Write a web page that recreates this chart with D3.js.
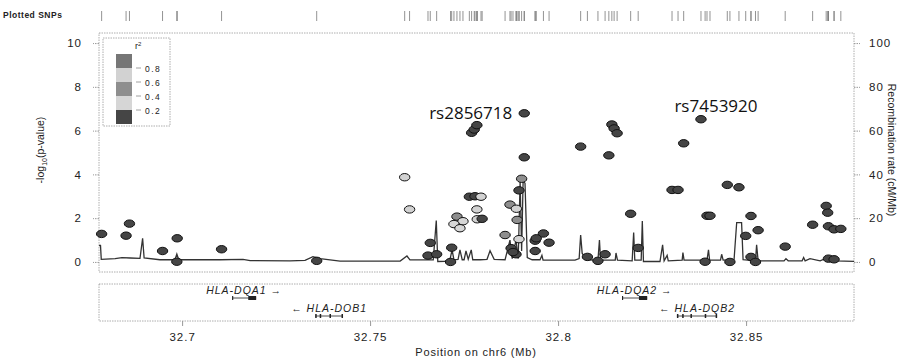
<!DOCTYPE html>
<html>
<head>
<meta charset="utf-8">
<script src="https://cdn.jsdelivr.net/npm/d3@7"></script>
<style>
body { margin: 0; background: #fff; }
text { font-family: "Liberation Sans", Arial, sans-serif; fill: #222; }
.lab { font-family: "Open Sans", sans-serif; fill: #111; }
</style>
</head>
<body>
<div id="chart"></div>
<script>
// SNP data: position (Mb), -log10 p, r2 with lead SNP
var snpPos = [32.6786, 32.6860, 32.6851, 32.6948, 32.6987, 32.6986, 32.7105, 32.7358,
    32.7592, 32.7605, 32.7660, 32.7654, 32.7677, 32.7714, 32.7717, 32.7731, 32.7747, 32.7723, 32.7739,
    32.7770, 32.7777, 32.7784, 32.7764, 32.7779, 32.7795, 32.7784, 32.7785, 32.7798,
    32.7859, 32.7872, 32.7889, 32.7891, 32.7896, 32.7875, 32.7888, 32.7880, 32.7896, 32.7903, 32.7910, 32.7910,
    32.7939, 32.7961, 32.7942, 32.7976, 32.7939, 32.8060, 32.8078, 32.8106, 32.8125, 32.8135,
    32.8143, 32.8149, 32.8157, 32.8193, 32.8213, 32.8303, 32.8319, 32.8334, 32.8380, 32.8391,
    32.8396, 32.8404, 32.8450, 32.8457, 32.8481, 32.8499, 32.8513, 32.8513, 32.8525, 32.8532,
    32.8604, 32.8677, 32.8713, 32.8717, 32.8719, 32.8734, 32.8752, 32.8719, 32.8734];
var snpLogP = [1.28, 1.75, 1.20, 0.50, 1.08, 0.01, 0.58, 0.05,
    3.87, 2.40, 0.87, 0.29, 0.35, 0.00, 0.65, 2.07, 1.86, 1.73, 1.54,
    5.90, 6.05, 6.25, 2.98, 3.00, 2.98, 2.40, 1.95, 1.97,
    1.23, 2.62, 2.43, 1.92, 1.04, 0.63, 0.35, 0.45, 3.27, 3.80, 4.78, 6.79,
    0.97, 1.30, 1.08, 0.88, 0.50, 5.27, 0.23, 0.05, 0.35, 4.87,
    6.28, 6.10, 5.88, 2.20, 0.64, 3.29, 3.29, 5.42, 6.52, 0.01,
    2.11, 2.11, 3.52, 0.00, 3.41, 1.19, 0.23, 2.10, 0.00, 1.45,
    0.70, 1.70, 2.56, 2.25, 1.63, 1.49, 1.51, 0.15, 0.12];
var snpR2 = [0.1, 0.1, 0.1, 0.1, 0.1, 0.1, 0.1, 0.1,
    0.7, 0.7, 0.1, 0.1, 0.1, 0.1, 0.1, 0.5, 0.3, 0.3, 0.3,
    0.1, 0.1, 0.1, 0.1, 0.1, 0.7, 0.7, 0.7, 0.1,
    0.5, 0.5, 0.7, 0.5, 0.7, 0.1, 0.1, 0.1, 0.1, 0.5, 0.1, 0.1,
    0.1, 0.1, 0.1, 0.1, 0.1, 0.1, 0.1, 0.1, 0.1, 0.1,
    0.1, 0.1, 0.1, 0.1, 0.1, 0.1, 0.1, 0.1, 0.1, 0.1,
    0.1, 0.1, 0.1, 0.1, 0.1, 0.1, 0.1, 0.1, 0.1, 0.1,
    0.1, 0.1, 0.1, 0.1, 0.1, 0.1, 0.1, 0.1, 0.1];

// recombination rate (cM/Mb)
var recPos = [32.6779, 32.6783, 32.6785, 32.6822, 32.6840, 32.6862, 32.6888, 32.6895, 32.6899, 32.6941,
    32.6981, 32.6986, 32.6991, 32.7101, 32.7162, 32.7181, 32.7287, 32.7327, 32.7348, 32.7367,
    32.7420, 32.7580, 32.7598, 32.7606, 32.7668, 32.7676, 32.7680, 32.7699, 32.7713, 32.7718,
    32.7723, 32.7734, 32.7739, 32.7745, 32.7750, 32.7755, 32.7761, 32.7769, 32.7773, 32.7793,
    32.7811, 32.7819, 32.7830, 32.7859, 32.7872, 32.7878, 32.7888, 32.7894, 32.7899, 32.7903,
    32.7907, 32.7912, 32.7918, 32.7931, 32.7952, 32.7957, 32.7960, 32.8045, 32.8056, 32.8060,
    32.8064, 32.8074, 32.8106, 32.8110, 32.8113, 32.8152, 32.8154, 32.8158, 32.8197, 32.8201,
    32.8204, 32.8221, 32.8224, 32.8227, 32.8271, 32.8278, 32.8282, 32.8290, 32.8293, 32.8330,
    32.8332, 32.8335, 32.8396, 32.8400, 32.8403, 32.8432, 32.8435, 32.8439, 32.8468, 32.8475,
    32.8488, 32.8492, 32.8525, 32.8528, 32.8532, 32.8601, 32.8606, 32.8612, 32.8649, 32.8653,
    32.8657, 32.8670, 32.8697, 32.8710, 32.8737, 32.8787];
var recRate = [7.5, 7.5, 1.2, 1.5, 2.0, 1.8, 1.6, 10.8, 1.8, 1.0,
    1.0, 3.6, 1.0, 1.0, 1.2, 0.6, 0.5, 0.7, 2.4, 1.5,
    0.4, 0.4, 2.7, 0.9, 0.9, 18.9, 0.2, 0.3, 1.5, 5.5,
    1.0, 1.2, 5.5, 1.0, 1.0, 5.0, 1.2, 5.5, 1.0, 1.0,
    1.2, 5.1, 1.2, 1.0, 10, 1.5, 10, 1.5, 37, 5,
    37, 36, 2, 1, 1.0, 3.0, 0.8, 0.8, 1.5, 12.3,
    4, 1.0, 0.8, 10, 0.8, 0.8, 4.1, 0.8, 0.5, 13.4,
    0.8, 0.8, 18.7, 0.2, 0.2, 7.8, 0.5, 3, 0.5, 0.8,
    4.3, 0.8, 0.8, 5.5, 0.8, 0.8, 3.5, 0.8, 1, 18,
    18, 1.0, 0.5, 7.8, 0.5, 0.5, 1.5, 0.5, 0.5, 2,
    0.5, 1.5, 0.5, 1.5, 0.5, 0.3];

// genes
var geneNames = ["HLA-DQA1", "HLA-DOB1", "HLA-DQA2", "HLA-DQB2"];
var geneStart = [32.7133, 32.7354, 32.8170, 32.8316];
var geneEnd = [32.7197, 32.7428, 32.8237, 32.8423];
var geneStrand = ["+", "-", "+", "-"];
var geneRow = [0, 1, 0, 1];
var geneExons = [
    [[32.7133, 32.7136], [32.7176, 32.7197]],
    [[32.7354, 32.7358], [32.7366, 32.7370], [32.7392, 32.7396], [32.7424, 32.7428]],
    [[32.8170, 32.8173], [32.8215, 32.8237]],
    [[32.8316, 32.8320], [32.8330, 32.8334], [32.8352, 32.8356], [32.8390, 32.8394], [32.8419, 32.8423]]
];

var labelNames = ["rs2856718", "rs7453920"];
var labelPos = [32.7910, 32.8380];
var labelLogP = [6.79, 6.52];

var xTicks = [32.7, 32.75, 32.8, 32.85];
var yTicks = [0, 2, 4, 6, 8, 10];
var recTicks = [0, 20, 40, 60, 80, 100];
var r2Breaks = [1, 0.8, 0.6, 0.4, 0.2, 0];
var r2Colors = ["#767676", "#d2d2d2", "#8e8e8e", "#d6d6d6", "#454545"];

var svgWidth = 915, svgHeight = 359;
var plot = { left: 99, right: 854, top: 33, bottom: 272 };

var svg = d3.select("#chart").append("svg")
    .attr("width", svgWidth)
    .attr("height", svgHeight);

var x = d3.scaleLinear().domain([32.6779, 32.8787]).range([plot.left, plot.right]);
var y = d3.scaleLinear().domain([-0.46, 10.46]).range([plot.bottom, plot.top]);
var yRec = d3.scaleLinear().domain([-4.6, 104.6]).range([plot.bottom, plot.top]);

function r2Color(r) {
    if (r >= 0.8) return r2Colors[0];
    if (r >= 0.6) return r2Colors[1];
    if (r >= 0.4) return r2Colors[2];
    if (r >= 0.2) return r2Colors[3];
    return r2Colors[4];
}

// plot frame
svg.append("rect")
    .attr("x", plot.left).attr("y", plot.top)
    .attr("width", plot.right - plot.left).attr("height", plot.bottom - plot.top)
    .attr("fill", "none").attr("stroke", "#9a9a9a")
    .attr("stroke-width", 0.8).attr("stroke-dasharray", "1.5,1");

// left axis
var leftAxis = d3.axisLeft(y).tickValues(yTicks).tickSize(6).tickPadding(11);
var gl = svg.append("g").attr("transform", `translate(${plot.left},0)`).call(leftAxis);
// right axis
var rightAxis = d3.axisRight(yRec).tickValues(recTicks).tickSize(6).tickPadding(9);
var gr = svg.append("g").attr("transform", `translate(${plot.right},0)`).call(rightAxis);
[gl, gr].forEach(function(g) {
    g.select(".domain").remove();
    g.selectAll(".tick line").attr("stroke", "#999").attr("stroke-dasharray", "1.5,1");
    g.selectAll(".tick text").attr("font-size", 11.5).attr("fill", "#222")
        .attr("font-family", "Liberation Sans, Arial, sans-serif").style("letter-spacing", "1px");
});

svg.append("text")
    .attr("transform", "translate(44,150) rotate(-90)")
    .attr("text-anchor", "middle")
    .attr("font-size", 10.5)
    .html("-log<tspan font-size='7' dy='3'>10</tspan><tspan dy='-3'>(p-value)</tspan>");

svg.append("text")
    .attr("transform", "translate(888,150) rotate(90)")
    .attr("text-anchor", "middle")
    .attr("font-size", 10.5)
    .text("Recombination rate (cM/Mb)");

// recombination line
var recData = recPos.map(function(p, i) { return { pos: p, rate: recRate[i] }; });
svg.append("path")
    .datum(recData)
    .attr("fill", "none")
    .attr("stroke", "#333")
    .attr("stroke-width", 1.3)
    .attr("d", d3.line().x(d => x(d.pos)).y(d => yRec(d.rate)));

// SNP points
var snps = snpPos.map(function(p, i) { return { pos: p, logp: snpLogP[i], r2: snpR2[i] }; });
svg.append("g").selectAll("ellipse")
    .data(snps)
    .enter()
    .append("ellipse")
    .attr("cx", d => x(d.pos))
    .attr("cy", d => y(d.logp))
    .attr("rx", 5.2)
    .attr("ry", 3.7)
    .attr("fill", d => r2Color(d.r2))
    .attr("stroke", "#111")
    .attr("stroke-width", 1);

// labelled SNPs
var labOffsetX = [-12, 15];
var labOffsetY = [6, -7];
var labAnchor = ["end", "middle"];
labelNames.forEach(function(name, i) {
    svg.append("text")
        .attr("class", "lab")
        .attr("x", x(labelPos[i]) + labOffsetX[i])
        .attr("y", y(labelLogP[i]) + labOffsetY[i])
        .attr("text-anchor", labAnchor[i])
        .attr("font-size", 17)
        .text(name);
});

// plotted SNPs row
svg.append("text")
    .attr("x", 3).attr("y", 18)
    .attr("font-size", 8.5).attr("font-weight", "bold")
    .style("letter-spacing", "0.5px")
    .text("Plotted SNPs");
svg.append("g").selectAll("line")
    .data(snpPos)
    .enter()
    .append("line")
    .attr("x1", d => x(d)).attr("x2", d => x(d))
    .attr("y1", 11).attr("y2", 21)
    .attr("stroke", "#777").attr("stroke-width", 0.8);

// legend
var leg = svg.append("g");
leg.append("rect")
    .attr("x", 103).attr("y", 38).attr("width", 67).attr("height", 88)
    .attr("fill", "#fff").attr("stroke", "#999")
    .attr("stroke-width", 0.8).attr("stroke-dasharray", "1.5,1");
var legY = d3.scaleLinear().domain([1, 0]).range([54, 124]);
leg.selectAll(".seg")
    .data(r2Colors)
    .enter()
    .append("rect")
    .attr("x", 116).attr("width", 16)
    .attr("y", (d, i) => legY(r2Breaks[i]))
    .attr("height", (d, i) => legY(r2Breaks[i + 1]) - legY(r2Breaks[i]))
    .attr("fill", d => d);
leg.selectAll(".lt")
    .data(r2Breaks.slice(1, 5))
    .enter()
    .append("text")
    .attr("x", 145).attr("y", d => legY(d) + 3.5)
    .attr("font-size", 8.5).attr("fill", "#555")
    .style("letter-spacing", "1.5px")
    .text(d => d.toFixed(1));
leg.selectAll(".ld")
    .data(r2Breaks.slice(1, 5))
    .enter()
    .append("line")
    .attr("x1", 136).attr("x2", 141)
    .attr("y1", d => legY(d)).attr("y2", d => legY(d))
    .attr("stroke", "#888").attr("stroke-width", 0.8);
leg.append("text")
    .attr("x", 135).attr("y", 49)
    .attr("font-size", 9).attr("fill", "#555")
    .html("r<tspan font-size='6' dy='-3'>2</tspan>");

// gene panel
var gp = { top: 284, bottom: 321 };
svg.append("rect")
    .attr("x", plot.left).attr("y", gp.top)
    .attr("width", plot.right - plot.left).attr("height", gp.bottom - gp.top)
    .attr("fill", "none").attr("stroke", "#999")
    .attr("stroke-width", 0.8).attr("stroke-dasharray", "1.5,1");
var rowLine = [298, 316];
var rowText = [294, 312];
geneNames.forEach(function(name, i) {
    var g = svg.append("g");
    var cx = (x(geneStart[i]) + x(geneEnd[i])) / 2;
    g.append("line")
        .attr("x1", x(geneStart[i])).attr("x2", x(geneEnd[i]))
        .attr("y1", rowLine[geneRow[i]]).attr("y2", rowLine[geneRow[i]])
        .attr("stroke", "#222").attr("stroke-width", 0.8);
    g.selectAll("rect")
        .data(geneExons[i])
        .enter()
        .append("rect")
        .attr("x", d => x(d[0]))
        .attr("width", d => Math.max(1, x(d[1]) - x(d[0])))
        .attr("y", rowLine[geneRow[i]] - 2).attr("height", 4)
        .attr("fill", "#222");
    g.append("text")
        .attr("x", cx)
        .attr("y", rowText[geneRow[i]])
        .attr("text-anchor", "middle")
        .attr("font-size", 10.5).attr("font-style", "italic")
        .style("letter-spacing", "1px")
        .text(geneStrand[i] == "+" ? name + " \u2192" : "\u2190 " + name);
});

// x axis under gene panel
var bottomAxis = d3.axisBottom(x).tickValues(xTicks).tickSize(5).tickPadding(7)
    .tickFormat(d3.format(""));
var gx = svg.append("g").attr("transform", `translate(0,${gp.bottom})`).call(bottomAxis);
gx.select(".domain").remove();
gx.selectAll(".tick line").attr("stroke", "#999");
gx.selectAll(".tick text").attr("font-size", 11.5).attr("fill", "#222")
    .attr("font-family", "Liberation Sans, Arial, sans-serif").style("letter-spacing", "1px");

svg.append("text")
    .attr("x", 476).attr("y", 356)
    .attr("text-anchor", "middle")
    .attr("font-size", 11)
    .style("letter-spacing", "0.8px")
    .text("Position on chr6 (Mb)");
</script>
</body>
</html>
